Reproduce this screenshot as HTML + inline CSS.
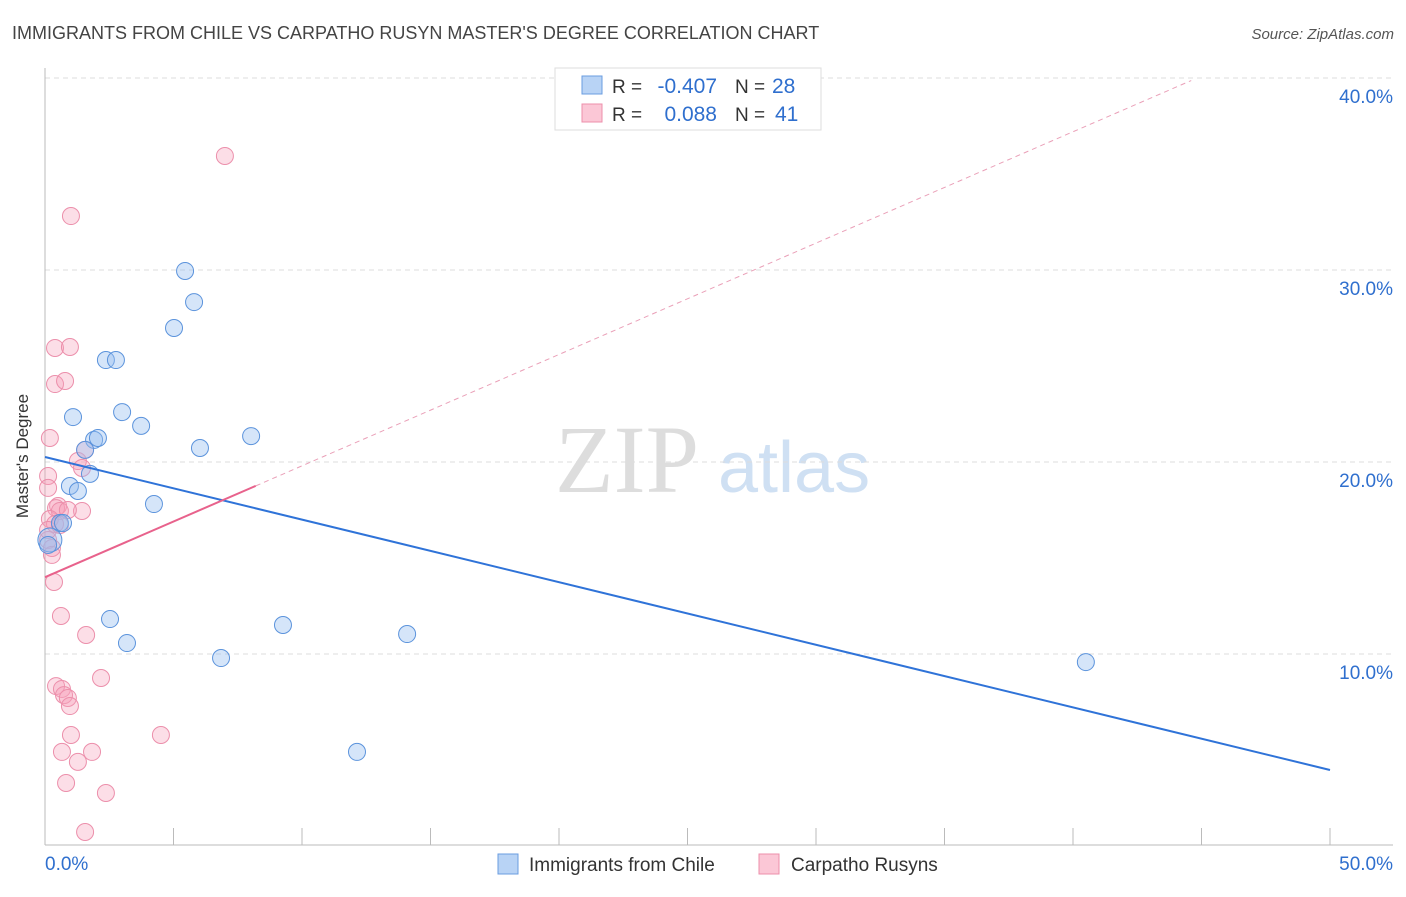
<!DOCTYPE html>
<html><head><meta charset="utf-8"><style>
body{margin:0;background:#fff;font-family:"Liberation Sans",sans-serif;}
svg text{font-family:"Liberation Sans",sans-serif;}
</style></head><body>
<svg id="c" width="1406" height="892">
<text x="12" y="39" font-size="18" fill="#444">IMMIGRANTS FROM CHILE VS CARPATHO RUSYN MASTER'S DEGREE CORRELATION CHART</text>
<text x="1394" y="39" font-size="15" fill="#555" text-anchor="end" font-style="italic">Source: ZipAtlas.com</text>
<text x="28" y="456" font-size="17" fill="#333" text-anchor="middle" transform="rotate(-90 28 456)">Master's Degree</text>
<text x="555" y="492" font-size="96" fill="#ddd" style="font-family:'Liberation Serif',serif">ZIP</text>
<text x="718" y="492" font-size="72" fill="#cfe0f3">atlas</text>
<g id="grid"></g><g id="marks"></g>
<g>
<rect x="555" y="68" width="266" height="62" fill="#fff" stroke="#ddd"/>
<rect x="582" y="76" width="20" height="18" fill="#b8d3f5" stroke="#6a9de0"/>
<rect x="582" y="104" width="20" height="18" fill="#fbc7d6" stroke="#ec8fab"/>
<text x="612" y="93" font-size="19" fill="#333">R =</text>
<text x="717" y="93" font-size="21" fill="#2f6fce" text-anchor="end">-0.407</text>
<text x="735" y="93" font-size="19" fill="#333">N =</text>
<text x="772" y="93" font-size="21" fill="#2f6fce">28</text>
<text x="612" y="121" font-size="19" fill="#333">R =</text>
<text x="717" y="121" font-size="21" fill="#2f6fce" text-anchor="end">0.088</text>
<text x="735" y="121" font-size="19" fill="#333">N =</text>
<text x="775" y="121" font-size="21" fill="#2f6fce">41</text>
</g>
<g>
<rect x="498" y="854" width="20" height="20" fill="#b8d3f5" stroke="#6a9de0"/>
<text x="529" y="871" font-size="19" fill="#333">Immigrants from Chile</text>
<rect x="759" y="854" width="20" height="20" fill="#fbc7d6" stroke="#ec8fab"/>
<text x="791" y="871" font-size="19" fill="#333">Carpatho Rusyns</text>
</g>
</svg>
<script>
const yTicks=[10,20,30,40];
const yTickLabels=["10.0%","20.0%","30.0%","40.0%"];
const chileX=[5.45,5.8,5.02,2.37,2.76,1.09,3.0,3.74,1.91,2.06,6.03,8.02,1.56,1.75,0.97,1.28,4.24,0.58,0.7,0.19,2.53,3.19,6.85,9.26,14.09,40.5,12.14,0.12];
const chileY=[29.95,28.33,26.98,25.31,25.31,22.34,22.6,21.88,21.15,21.25,20.73,21.35,20.63,19.38,18.75,18.49,17.81,16.82,16.82,15.94,11.82,10.57,9.79,11.51,11.04,9.58,4.9,15.68];
const rusX=[7.0,1.01,0.39,0.97,0.39,0.78,0.19,1.28,1.44,1.56,0.12,0.12,0.51,0.43,0.58,1.44,0.89,0.19,0.39,0.12,0.27,0.35,0.62,1.6,2.18,0.43,0.66,0.74,0.89,0.97,4.51,1.01,0.66,1.83,1.28,0.82,2.37,1.56,0.12,0.58,0.27];
const rusY=[35.94,32.81,25.94,25.99,24.06,24.22,21.25,20.05,19.69,20.63,19.27,18.65,17.71,17.6,17.45,17.45,17.5,17.03,16.77,15.94,15.52,13.75,11.98,10.99,8.75,8.33,8.18,7.86,7.71,7.29,5.78,5.78,4.9,4.9,4.38,3.28,2.76,0.73,16.46,16.72,15.16];
const chileTrend=[20.26,3.96];
const rusTrend=[14.0,0.58];
const ns="http://www.w3.org/2000/svg";
const X=v=>45+v*25.7, Y=v=>846-v*19.2;
function mk(p,t,a){const e=document.createElementNS(ns,t);for(const k in a)e.setAttribute(k,a[k]);p.appendChild(e);return e;}
const g=document.getElementById('grid'),m=document.getElementById('marks');
yTicks.forEach((t,i)=>{
 const l=mk(g,'line',{x1:45,x2:1393,y1:Y(t),y2:Y(t),stroke:'#ddd','stroke-dasharray':'5,4'});
 
 
 const tx=mk(g,'text',{x:1393,y:Y(t)+25,'font-size':19,fill:'#2f6fce','text-anchor':'end'});tx.textContent=yTickLabels[i];
 
 
});
mk(g,'line',{x1:45,x2:45,y1:68,y2:845,stroke:'#bbb'});
mk(g,'line',{x1:45,x2:1393,y1:845,y2:845,stroke:'#bbb'});
for(let v=5;v<=50;v+=5){mk(g,'line',{x1:X(v),x2:X(v),y1:828,y2:845,stroke:'#bbb'});}
const x0=mk(g,'text',{x:45,y:870,'font-size':19,fill:'#2f6fce'});x0.textContent='0.0%';


const x1=mk(g,'text',{x:1393,y:870,'font-size':19,fill:'#2f6fce','text-anchor':'end'});x1.textContent='50.0%';


rusX.forEach((x,i)=>{const c=mk(m,'circle',{cx:X(x),cy:Y(rusY[i]),r:8.5,fill:'rgba(246,160,186,0.35)',stroke:'#ec8fab','stroke-width':1});
 
 });
chileX.forEach((x,i)=>{const c=mk(m,'circle',{cx:X(x),cy:Y(chileY[i]),r:i==19?12:8.5,fill:'rgba(150,190,240,0.4)',stroke:'#5b93dc','stroke-width':1});
 
 });
const bl=mk(m,'line',{x1:X(0),y1:Y(chileTrend[0]),x2:X(50),y2:Y(chileTrend[1]),stroke:'#2f73d8','stroke-width':2});


const pl=mk(m,'line',{x1:X(0),y1:Y(rusTrend[0]),x2:X(8.2),y2:Y(rusTrend[0]+rusTrend[1]*8.2),stroke:'#e8628c','stroke-width':2});


const pd=mk(m,'line',{x1:X(8.2),y1:Y(rusTrend[0]+rusTrend[1]*8.2),x2:X(44.6),y2:Y(rusTrend[0]+rusTrend[1]*44.6),stroke:'#eaa0b8','stroke-width':1,'stroke-dasharray':'5,4'});


</script>
</body></html>
